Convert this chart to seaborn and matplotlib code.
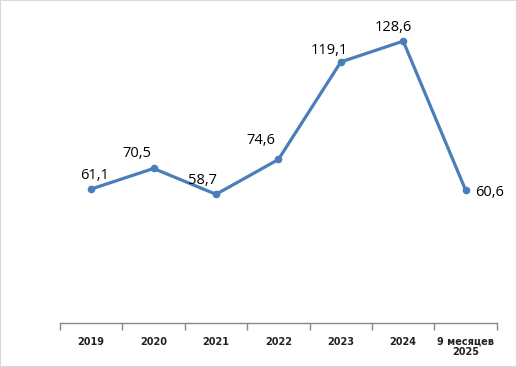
import matplotlib.pyplot as plt
import seaborn as sns
from matplotlib.patches import Rectangle

# data
periods = ['2019', '2020', '2021', '2022', '2023', '2024', '9 месяцев\n2025']
values = [61.1, 70.5, 58.7, 74.6, 119.1, 128.6, 60.6]
value_labels = ['61,1', '70,5', '58,7', '74,6', '119,1', '128,6', '60,6']
# label offsets in pixels (style only)
label_dx = [3, -17, -13, -18, -12, -10, 24]
label_dy = [14, 15, 14, 19, 11, 14, -2]

sns.set_style('white')
plt.rcParams['font.family'] = ['DejaVu Sans']

fig = plt.figure(figsize=(5.17, 3.67), dpi=100)
ax = fig.add_axes([0.116, 0.12, 0.845, 0.836])

pos = list(range(len(periods)))
sns.lineplot(x=pos, y=values, ax=ax, color='#4a7ebb', linewidth=2.3,
             marker='o', markersize=5.5, markeredgewidth=0)

for i, (v, lab) in enumerate(zip(values, value_labels)):
    ax.annotate(lab, (i, v), xytext=(label_dx[i], label_dy[i]),
                textcoords='offset pixels', ha='center', va='center',
                fontsize=10.5, family='Open Sans', color='black')

ax.set_xlim(-0.5, len(periods) - 0.5)
ax.set_ylim(0, 140)
ax.set_xticks(pos)
ax.set_xticklabels(periods, fontsize=7, fontweight='bold', color='#222222',
                   linespacing=1.05)
ax.set_xticks([p - 0.5 for p in pos] + [len(periods) - 0.5], minor=True)
ax.tick_params(axis='x', which='major', bottom=True, length=0, pad=10)
ax.tick_params(axis='x', which='minor', bottom=True, length=5, width=1,
               color='#888888', direction='out')
ax.set_yticks([])

for s in ['top', 'right', 'left']:
    ax.spines[s].set_visible(False)
ax.spines['bottom'].set_color('#888888')
ax.spines['bottom'].set_linewidth(1)

fig.patches.append(Rectangle((0, 0), 1, 1, transform=fig.transFigure, fill=False,
                             edgecolor='#d9d9d9', linewidth=1.5))

fig.savefig('out.png', dpi=100)
